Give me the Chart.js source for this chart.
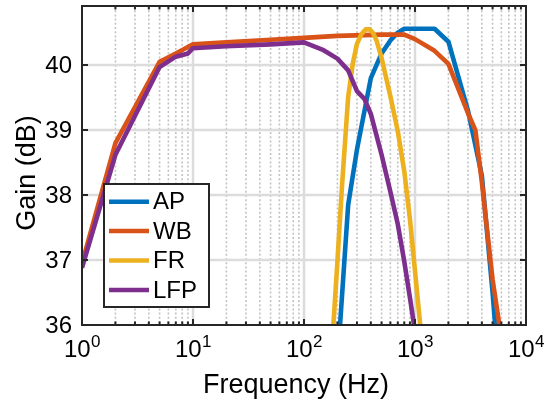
<!DOCTYPE html>
<html>
<head>
<meta charset="utf-8">
<script src="https://cdn.jsdelivr.net/npm/chart.js@4/dist/chart.umd.min.js"></script>
<style>
html,body{margin:0;padding:0;background:#fff;}
#wrap{width:545px;height:406px;position:relative;}
</style>
</head>
<body>
<div id="wrap"><canvas id="c" width="545" height="406"></canvas></div>
<script>
// ---- data ----
const seriesNames = ['AP', 'WB', 'FR', 'LFP'];
const seriesColors = ['#0072BD', '#D95319', '#EDB120', '#7E2F8E'];

const apFreq = [200, 250, 300, 400, 500, 600, 700, 800, 1000, 1500, 2000, 3000, 4000, 5000, 6000];
const apGain = [35.4, 37.85, 38.7, 39.8, 40.18, 40.38, 40.5, 40.56, 40.56, 40.56, 40.36, 39.3, 38.3, 36.5, 34.8];

const wbFreq = [1, 2, 5, 7, 10, 20, 50, 100, 200, 500, 800, 1000, 1500, 2000, 3000, 3500, 4000, 5000, 6000];
const wbGain = [36.95, 38.8, 40.05, 40.18, 40.32, 40.35, 40.39, 40.42, 40.45, 40.47, 40.47, 40.4, 40.22, 40.02, 39.26, 39.0, 38.2, 36.7, 35.8];

const frFreq = [180, 200, 220, 250, 275, 300, 330, 360, 390, 420, 450, 500, 600, 700, 800, 900, 1000, 1100, 1200];
const frGain = [35.75, 36.98, 38.14, 39.51, 40.02, 40.33, 40.48, 40.55, 40.55, 40.49, 40.38, 40.11, 39.52, 38.98, 38.37, 37.63, 36.83, 36.1, 35.4];

const lfpFreq = [1, 2, 5, 7, 9, 10, 20, 50, 100, 150, 200, 250, 300, 350, 400, 500, 600, 700, 800, 900, 1000];
const lfpGain = [36.88, 38.62, 39.97, 40.13, 40.18, 40.26, 40.29, 40.32, 40.35, 40.23, 40.1, 39.92, 39.6, 39.48, 39.25, 38.62, 38.05, 37.55, 36.98, 36.42, 35.9];

const yTickValues = [36, 37, 38, 39, 40];
const xTickExponents = [0, 1, 2, 3, 4];
const xMin = 1, xMax = 10000, yMin = 36, yMax = 40.91;
const xTitle = 'Frequency (Hz)';
const yTitle = 'Gain (dB)';

// ---- build datasets ----
function pts(f, g) { return f.map((v, i) => ({ x: v, y: g[i] })); }
const seriesData = [pts(apFreq, apGain), pts(wbFreq, wbGain), pts(frFreq, frGain), pts(lfpFreq, lfpGain)];
const drawOrder = [4, 3, 2, 1];

const datasets = seriesNames.map((n, i) => ({
  label: n,
  data: seriesData[i],
  borderColor: seriesColors[i],
  backgroundColor: seriesColors[i],
  borderWidth: 4.6,
  pointRadius: 0,
  tension: 0,
  fill: false,
  clip: 0,
  order: drawOrder[i],
  borderJoinStyle: 'round',
  borderCapStyle: 'butt'
}));

const FONT = '"Liberation Sans", Arial, Helvetica, sans-serif';
const AXIS = '#262626';

const matlabAxes = {
  id: 'matlabAxes',
  beforeDraw(chart) {
    const ctx = chart.ctx;
    ctx.save();
    ctx.fillStyle = '#ffffff';
    ctx.fillRect(0, 0, chart.width, chart.height);
    ctx.restore();
  },
  beforeDatasetsDraw(chart) {
    const { ctx, chartArea: a, scales: { x, y } } = chart;
    ctx.save();
    // minor (dotted) vertical grid
    ctx.strokeStyle = '#c2c2c2';
    ctx.lineWidth = 1.6;
    ctx.setLineDash([2, 2.2]);
    for (let e = 0; e < 4; e++) {
      for (let m = 2; m <= 9; m++) {
        const px = x.getPixelForValue(m * Math.pow(10, e));
        ctx.beginPath(); ctx.moveTo(px, a.top); ctx.lineTo(px, a.bottom); ctx.stroke();
      }
    }
    // major grid
    ctx.setLineDash([]);
    ctx.strokeStyle = '#dcdcdc';
    ctx.lineWidth = 2.5;
    xTickExponents.forEach(e => {
      const px = x.getPixelForValue(Math.pow(10, e));
      if (px > a.left + 1 && px < a.right - 1) {
        ctx.beginPath(); ctx.moveTo(px, a.top); ctx.lineTo(px, a.bottom); ctx.stroke();
      }
    });
    yTickValues.forEach(v => {
      const py = y.getPixelForValue(v);
      if (py < a.bottom - 1 && py > a.top + 1) {
        ctx.beginPath(); ctx.moveTo(a.left, py); ctx.lineTo(a.right, py); ctx.stroke();
      }
    });
    ctx.restore();
  },
  afterDatasetsDraw(chart) {
    const { ctx, chartArea: a, scales: { x, y } } = chart;
    ctx.save();
    ctx.strokeStyle = AXIS;
    ctx.lineWidth = 2;
    ctx.setLineDash([]);
    // ticks (inward) on all four sides
    ctx.beginPath();
    for (let e = 0; e < 4; e++) {
      for (let m = 1; m <= 9; m++) {
        const v = m * Math.pow(10, e);
        const px = x.getPixelForValue(v);
        const len = m === 1 ? 6 : 3.5;
        ctx.moveTo(px, a.bottom); ctx.lineTo(px, a.bottom - len);
        ctx.moveTo(px, a.top); ctx.lineTo(px, a.top + len);
      }
    }
    yTickValues.forEach(v => {
      const py = y.getPixelForValue(v);
      ctx.moveTo(a.left, py); ctx.lineTo(a.left + 6, py);
      ctx.moveTo(a.right, py); ctx.lineTo(a.right - 6, py);
    });
    ctx.stroke();
    // box
    ctx.strokeRect(a.left, a.top, a.right - a.left, a.bottom - a.top);

    // y tick labels
    ctx.fillStyle = '#000';
    ctx.font = '24px ' + FONT;
    ctx.textAlign = 'right';
    ctx.textBaseline = 'middle';
    yTickValues.forEach(v => {
      ctx.fillText(String(v), a.left - 10, y.getPixelForValue(v) + 1);
    });

    // x tick labels 10^n
    ctx.textBaseline = 'alphabetic';
    ctx.textAlign = 'left';
    xTickExponents.forEach(e => {
      const px = x.getPixelForValue(Math.pow(10, e));
      ctx.font = '24px ' + FONT;
      const wb = ctx.measureText('10').width;
      ctx.font = '17px ' + FONT;
      const we = ctx.measureText(String(e)).width;
      const start = px - (wb + we) / 2;
      ctx.font = '24px ' + FONT;
      ctx.fillText('10', start, 357);
      ctx.font = '17px ' + FONT;
      ctx.fillText(String(e), start + wb + 0.5, 347);
    });

    // axis titles
    ctx.font = '27px ' + FONT;
    ctx.textAlign = 'center';
    ctx.textBaseline = 'alphabetic';
    ctx.fillText(xTitle, 296, 393);
    ctx.save();
    ctx.translate(35, 173);
    ctx.rotate(-Math.PI / 2);
    ctx.fillText(yTitle, 0, 0);
    ctx.restore();

    // legend
    const lx = 104, ly = 184, lw = 105, lh = 123;
    ctx.fillStyle = '#fff';
    ctx.fillRect(lx, ly, lw, lh);
    ctx.strokeStyle = AXIS;
    ctx.lineWidth = 2;
    ctx.strokeRect(lx, ly, lw, lh);
    const rowY = [201.7, 231, 260.5, 290];
    ctx.font = '24px ' + FONT;
    ctx.textAlign = 'left';
    ctx.textBaseline = 'middle';
    seriesNames.forEach((n, i) => {
      ctx.strokeStyle = seriesColors[i];
      ctx.lineWidth = 4.5;
      ctx.beginPath(); ctx.moveTo(109, rowY[i]); ctx.lineTo(149, rowY[i]); ctx.stroke();
      ctx.fillStyle = '#000';
      ctx.fillText(n, 153, rowY[i] + 1);
    });
    ctx.restore();
  }
};

new Chart(document.getElementById('c'), {
  type: 'line',
  data: { datasets },
  options: {
    responsive: false,
    animation: false,
    devicePixelRatio: 1,
    layout: { padding: { top: 6, right: 19, left: 0, bottom: 0 } },
    plugins: { legend: { display: false }, tooltip: { enabled: false } },
    scales: {
      x: {
        type: 'logarithmic', min: xMin, max: xMax,
        grid: { display: false }, border: { display: false },
        ticks: { display: false },
        afterFit: s => { s.height = 81; s.paddingLeft = 0; s.paddingRight = 0; }
      },
      y: {
        type: 'linear', min: yMin, max: yMax,
        grid: { display: false }, border: { display: false },
        ticks: { display: false },
        afterFit: s => { s.width = 82; s.paddingTop = 0; s.paddingBottom = 0; }
      }
    }
  },
  plugins: [matlabAxes]
});
</script>
</body>
</html>
